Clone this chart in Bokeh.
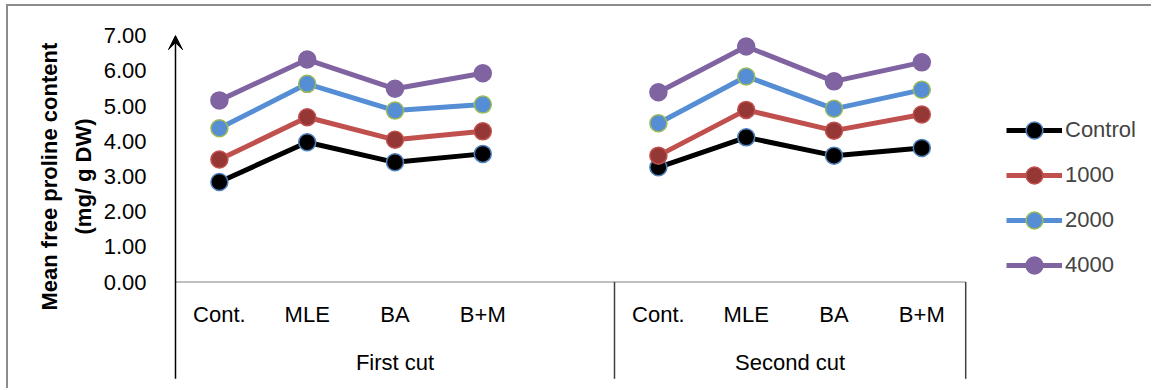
from bokeh.plotting import figure
from bokeh.models import (Range1d, LinearAxis, FixedTicker, NumeralTickFormatter,
                          Title, Arrow, VeeHead, Legend, LegendItem)
from bokeh.core.properties import value
from bokeh.embed import file_html
from bokeh.resources import INLINE

# Mean free proline content (mg/ g DW) per treatment and cut
categories = ["Cont.", "MLE", "BA", "B+M"]
cuts = ["First cut", "Second cut"]
series_names = ["Control", "1000", "2000", "4000"]

control_first = [2.84, 3.97, 3.40, 3.64]
control_second = [3.26, 4.11, 3.59, 3.81]
c1000_first = [3.48, 4.68, 4.04, 4.28]
c1000_second = [3.59, 4.89, 4.30, 4.76]
c2000_first = [4.37, 5.63, 4.87, 5.04]
c2000_second = [4.51, 5.84, 4.92, 5.46]
c4000_first = [5.16, 6.32, 5.49, 5.93]
c4000_second = [5.39, 6.69, 5.70, 6.24]

y_ticks = [0, 1, 2, 3, 4, 5, 6, 7]

FONT = "Liberation Sans"
NAN = float("nan")

# slot layout: first cut uses slots 0-3 plus an empty slot, second cut slots 5-8
n_cat = len(categories)
first_slots = list(range(n_cat))
second_slots = [n_cat + 1 + i for i in range(n_cat)]
group_edges = [0, n_cat + 1, 2 * n_cat + 1]
xs = [s + 0.5 for s in first_slots] + [n_cat + 0.5] + [s + 0.5 for s in second_slots]

def join(a, b):
    return list(a) + [NAN] + list(b)

series = [
    (join(control_first, control_second), "#000000", "#000000", "#4F81BD"),
    (join(c1000_first, c1000_second), "#C0504D", "#953735", "#C0504D"),
    (join(c2000_first, c2000_second), "#558ED5", "#558ED5", "#9BBB59"),
    (join(c4000_first, c4000_second), "#8064A2", "#8064A2", "#8064A2"),
]

p = figure(width=1145, height=384,
           x_range=Range1d(-0.1708, 11.139), y_range=Range1d(-3.082, 7.827),
           x_axis_location=None, y_axis_location=None,
           min_border_left=152, min_border_right=0, min_border_top=0, min_border_bottom=0,
           output_backend="svg", toolbar_location=None)
p.outline_line_color = None
p.grid.visible = False
p.margin = (4, 0, 0, 6)
p.styles = {"border-top": "2px solid #8c8c8c", "border-left": "2px solid #8c8c8c"}

yaxis = LinearAxis(ticker=FixedTicker(ticks=y_ticks),
                   formatter=NumeralTickFormatter(format="0.00"))
yaxis.axis_line_color = None
yaxis.major_tick_line_color = None
yaxis.minor_tick_line_color = None
yaxis.major_label_standoff = 8
yaxis.major_label_text_font = FONT
yaxis.major_label_text_font_size = "22px"
yaxis.major_label_text_color = "black"
p.add_layout(yaxis, "left")

# two-line axis title, both lines anchored from the bottom of the panel
t2 = Title(text="(mg/ g DW)", align="left", text_font=FONT, text_font_size="22px",
           text_font_style="bold", text_color="black", offset=156, standoff=10)
t1 = Title(text="Mean free proline content", align="left", text_font=FONT,
           text_font_size="22px", text_font_style="bold", text_color="black",
           offset=80, standoff=4)
p.add_layout(t2, "left")
p.add_layout(t1, "left")

# category axis: baseline and group dividers
axis_bottom = -2.75
p.segment(x0=[group_edges[0]], y0=[0], x1=[group_edges[-1]], y1=[0],
          line_color="#c0c0c0", line_width=2)
p.segment(x0=group_edges[1:], y0=[0, 0], x1=group_edges[1:], y1=[axis_bottom, axis_bottom],
          line_color="#404040", line_width=1.5)
p.add_layout(Arrow(end=VeeHead(size=14, fill_color="black", line_color="black"),
                   x_start=0, y_start=axis_bottom, x_end=0, y_end=y_ticks[-1],
                   line_color="black", line_width=1.5))

cat_x = [s + 0.5 for s in first_slots + second_slots]
p.text(x=cat_x, y=[-0.92] * len(cat_x), text=categories * 2,
       text_align="center", text_baseline="middle",
       text_font=value(FONT), text_font_size="22px", text_color="black")
grp_x = [(group_edges[0] + group_edges[1]) / 2, (group_edges[1] + group_edges[2]) / 2]
p.text(x=grp_x, y=[-2.29, -2.29], text=cuts,
       text_align="center", text_baseline="middle",
       text_font=value(FONT), text_font_size="22px", text_color="black")

items = []
for name, (vals, lc, fc, oc) in zip(series_names, series):
    lr = p.line(xs, vals, line_color=lc, line_width=5)
    sr = p.scatter(xs, vals, size=17, fill_color=fc, line_color=oc, line_width=1.5)
    items.append(LegendItem(label=name, renderers=[lr, sr]))

legend = Legend(items=items, location=(846, 104), glyph_width=56, glyph_height=42,
                spacing=3, label_standoff=3, padding=0, margin=0,
                label_text_font=FONT, label_text_font_size="22px",
                border_line_color=None, background_fill_alpha=0)
p.add_layout(legend)

open("out.html", "w").write(file_html(p, INLINE))
